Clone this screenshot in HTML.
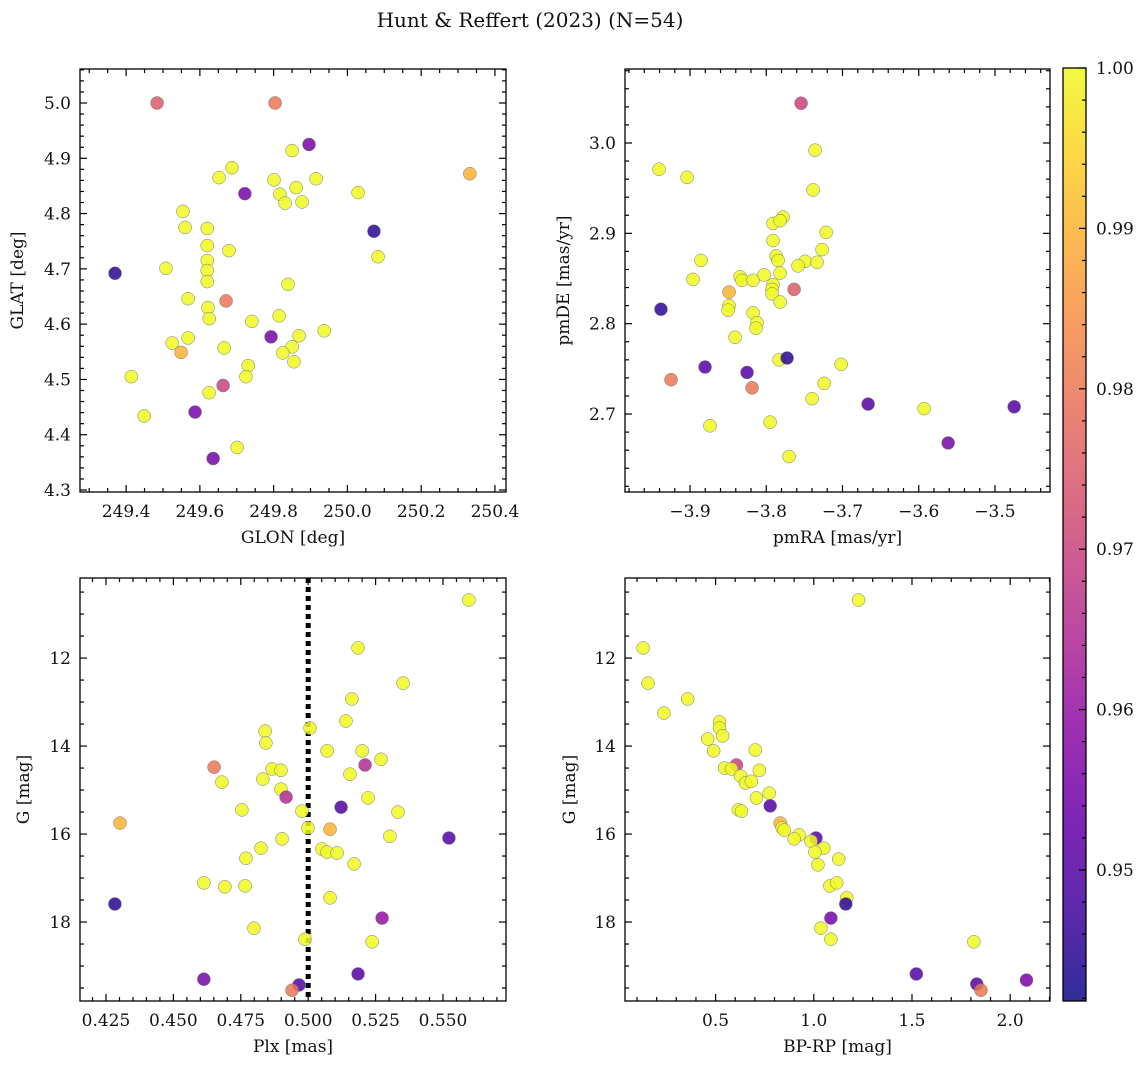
<!DOCTYPE html>
<html><head><meta charset="utf-8"><style>
body{margin:0;background:#fff;}
svg text{font-family:"DejaVu Serif","Liberation Serif",serif;fill:#111;}
</style></head><body>
<svg id="fig" xmlns="http://www.w3.org/2000/svg" width="1148" height="1068" viewBox="0 0 1148 1068">
<defs><linearGradient id="cmap" x1="0" y1="1" x2="0" y2="0"></linearGradient></defs>
<text x="530" y="27" font-size="20" text-anchor="middle">Hunt &amp; Reffert (2023) (N=54)</text>
</svg>
<script>
// ---- data ----
const glonValues=[249.484,249.804,249.896,249.850,249.915,250.332,249.687,249.652,249.801,249.861,249.722,250.029,249.817,249.831,249.877,249.554,249.620,249.560,250.072,249.679,249.620,249.370,249.508,249.620,249.620,249.620,250.083,249.839,249.568,249.671,249.622,249.815,249.625,249.741,249.937,249.869,249.525,249.568,249.793,249.666,249.850,249.549,249.825,249.855,249.731,249.725,249.414,249.625,249.663,249.587,249.449,249.701,249.636];
const glatValues=[5.000,5.000,4.925,4.914,4.863,4.872,4.883,4.865,4.861,4.847,4.836,4.838,4.835,4.819,4.821,4.804,4.773,4.775,4.768,4.733,4.742,4.692,4.701,4.715,4.697,4.677,4.722,4.672,4.646,4.642,4.630,4.615,4.610,4.605,4.588,4.579,4.566,4.575,4.577,4.557,4.559,4.549,4.548,4.532,4.525,4.505,4.505,4.476,4.489,4.441,4.434,4.377,4.357];
const probPos=[0.975,0.98,0.955,1,1,0.99,1,1,1,1,0.955,1,1,1,1,1,1,1,0.945,1,1,0.945,1,1,1,1,1,1,1,0.98,1,1,1,1,1,1,1,1,0.955,1,1,0.99,1,1,1,1,1,1,0.97,0.955,1,1,0.955];

const pmraValues=[-3.7543,-3.7360,-3.9407,-3.9039,-3.7386,-3.7215,-3.7780,-3.7911,-3.7819,-3.7911,-3.7268,-3.7871,-3.7845,-3.7491,-3.7333,-3.7583,-3.8856,-3.8961,-3.7819,-3.8344,-3.8318,-3.8173,-3.8029,-3.7911,-3.7635,-3.7924,-3.7924,-3.8488,-3.7819,-3.8488,-3.8173,-3.8501,-3.8121,-3.8134,-3.9381,-3.8409,-3.7832,-3.7727,-3.7018,-3.8803,-3.8252,-3.9249,-3.7241,-3.8186,-3.7399,-3.6664,-3.5929,-3.4748,-3.8738,-3.7950,-3.7701,-3.5614];
const pmdeValues=[3.044,2.992,2.971,2.962,2.948,2.901,2.918,2.911,2.914,2.892,2.882,2.875,2.870,2.869,2.868,2.864,2.870,2.849,2.856,2.852,2.848,2.848,2.854,2.843,2.838,2.838,2.833,2.835,2.824,2.820,2.812,2.815,2.801,2.795,2.816,2.785,2.760,2.762,2.755,2.752,2.746,2.738,2.734,2.729,2.717,2.711,2.706,2.708,2.687,2.691,2.653,2.668];
const probPm=[0.97,1,1,1,1,1,1,1,1,1,1,1,1,1,1,1,1,1,1,1,1,1,1,1,0.975,1,1,0.99,1,1,1,1,1,1,0.945,1,1,0.945,1,0.95,0.95,0.98,1,0.98,1,0.95,1,0.95,1,1,1,0.955];

const plxValues=[0.5596,0.5185,0.5352,0.5162,0.5140,0.4840,0.5007,0.5070,0.5200,0.4843,0.4651,0.5211,0.5270,0.4680,0.5155,0.4832,0.4866,0.4899,0.4899,0.4918,0.5222,0.4754,0.4977,0.5333,0.5122,0.4302,0.4999,0.5081,0.5522,0.4903,0.5303,0.4825,0.5051,0.5070,0.5107,0.5170,0.4769,0.4613,0.4691,0.4766,0.5081,0.4799,0.4283,0.5274,0.5237,0.4988,0.4613,0.5185,0.4966,0.4940];
const gPlxValues=[10.68,11.77,12.57,12.93,13.43,13.66,13.59,14.11,14.11,13.93,14.48,14.43,14.30,14.82,14.64,14.75,14.52,14.55,14.98,15.16,15.18,15.45,15.48,15.50,15.39,15.75,15.86,15.89,16.09,16.11,16.05,16.32,16.34,16.41,16.43,16.68,16.55,17.11,17.20,17.18,17.45,18.14,17.59,17.91,18.45,18.39,19.30,19.18,19.43,19.55];
const probPlx=[1,1,1,1,1,1,1,1,1,1,0.98,0.965,1,1,1,1,1,1,1,0.965,1,1,1,1,0.95,0.99,1,0.99,0.95,1,1,1,1,1,1,1,1,1,1,1,1,1,0.945,0.96,1,1,0.955,0.95,0.95,0.98];
const meanPlx=0.5;

const bprpValues=[1.228,0.131,0.156,0.237,0.358,0.520,0.520,0.536,0.460,0.490,0.702,0.606,0.546,0.581,0.627,0.723,0.652,0.682,0.773,0.708,0.616,0.632,0.778,0.829,0.839,0.849,0.925,1.011,0.900,0.986,1.051,1.006,1.127,1.021,1.082,1.117,1.168,1.163,1.087,1.036,1.087,1.815,1.522,1.830,2.083,1.851];
const gCmdValues=[10.68,11.77,12.57,13.25,12.93,13.45,13.59,13.77,13.84,14.11,14.09,14.43,14.50,14.52,14.68,14.55,14.84,14.80,15.07,15.18,15.45,15.48,15.36,15.75,15.86,15.91,16.02,16.09,16.11,16.16,16.32,16.41,16.57,16.70,17.18,17.11,17.45,17.59,17.91,18.14,18.39,18.45,19.18,19.41,19.32,19.55];
const probCmd=[1,1,1,1,1,1,1,1,1,1,1,0.97,1,1,1,1,1,1,1,1,1,1,0.95,0.99,1,1,1,0.95,1,1,1,1,1,1,1,1,1,0.945,0.955,1,1,1,0.95,0.95,0.955,0.98];

const tickTLx=[249.4,249.6,249.8,250.0,250.2,250.4], tickTLy=[4.3,4.4,4.5,4.6,4.7,4.8,4.9,5.0];
const tickTRx=[-3.9,-3.8,-3.7,-3.6,-3.5], tickTRy=[2.7,2.8,2.9,3.0];
const tickBLx=[0.425,0.450,0.475,0.500,0.525,0.550], tickGy=[12,14,16,18];
const tickBRx=[0.5,1.0,1.5,2.0];
const cbarTicks=[0.95,0.96,0.97,0.98,0.99,1.00];

// ---- rendering ----
const NS='http://www.w3.org/2000/svg';
const svg=document.getElementById('fig');
function mk(tag,attrs,parent){const e=document.createElementNS(NS,tag);for(const k in attrs)e.setAttribute(k,attrs[k]);(parent||svg).appendChild(e);return e;}
const plasma=[[13,8,135],[65,4,157],[106,0,168],[143,13,164],[177,42,144],[204,71,120],[225,100,98],[242,132,75],[252,166,54],[252,206,37],[240,249,33]];
const CMIN=0.94183,CMAX=1.0;
function cm(v){let t=Math.max(0,Math.min(1,(v-CMIN)/(CMAX-CMIN)))*10;const i=Math.min(9,Math.floor(t)),f=t-i;const a=plasma[i],b=plasma[i+1];return 'rgb('+a.map((c,k)=>Math.round(c+(b[k]-c)*f)).join(',')+')';}
const grad=document.getElementById('cmap');
for(let i=0;i<=10;i++){mk('stop',{offset:(i*10)+'%','stop-color':'rgb('+plasma[i].join(',')+')'},grad);}
function fmt(v,d){const s=Math.abs(v).toFixed(d);return v<0?'\u2212'+s:s;}

function panel(o){
  const g=mk('g',{});
  
  
  const L=o.box[0],T=o.box[1],R=o.box[2],B=o.box[3];
  const sx=v=>L+(v-o.xr[0])/(o.xr[1]-o.xr[0])*(R-L);
  const sy=o.inv?(v=>T+(v-o.yr[0])/(o.yr[1]-o.yr[0])*(B-T)):(v=>B-(v-o.yr[0])/(o.yr[1]-o.yr[0])*(B-T));
  if(o.vline!==undefined){const l=mk('line',{x1:sx(o.vline),x2:sx(o.vline),y1:T,y2:B,stroke:'#000','stroke-width':5,'stroke-dasharray':'5,4'},g);
    
    }
  o.x.forEach((xv,i)=>{const c=mk('circle',{cx:sx(xv),cy:sy(o.y[i]),r:6.5,fill:cm(o.p[i]),'fill-opacity':0.85,stroke:'#777','stroke-width':0.5},g);
    
    });
  const tk=mk('g',{stroke:'#000','stroke-width':1.2},g);
  const xs=o.xt[1]-o.xt[0], ys=o.yt[1]-o.yt[0];
  const xm=xs/o.xminor, ym=ys/o.yminor;
  for(let v=o.xt[0]-Math.ceil((o.xt[0]-o.xr[0])/xm)*xm; v<=o.xr[1]; v+=xm){const px=sx(v);if(px<L+0.5||px>R-0.5)continue;
    const major=o.xt.some(t=>Math.abs(t-v)<xm/10);const len=major?7:4;
    mk('line',{x1:px,x2:px,y1:B,y2:B-len},tk);mk('line',{x1:px,x2:px,y1:T,y2:T+len},tk);}
  for(let v=o.yt[0]-Math.ceil((o.yt[0]-o.yr[0])/ym)*ym; v<=o.yr[1]; v+=ym){const py=sy(v);if(py<T+0.5||py>B-0.5)continue;
    const major=o.yt.some(t=>Math.abs(t-v)<ym/10);const len=major?7:4;
    mk('line',{x1:L,x2:L+len,y1:py,y2:py},tk);mk('line',{x1:R,x2:R-len,y1:py,y2:py},tk);}
  o.xt.forEach(v=>{const t=mk('text',{x:sx(v),y:B+25,'font-size':17,'text-anchor':'middle'},g);t.textContent=fmt(v,o.xd);
    
    });
  o.yt.forEach(v=>{const t=mk('text',{x:L-9,y:sy(v)+6,'font-size':17,'text-anchor':'end'},g);t.textContent=fmt(v,o.yd);
    
    });
  mk('rect',{x:L,y:T,width:R-L,height:B-T,fill:'none',stroke:'#000','stroke-width':1.3},g);
  const xl=mk('text',{x:(L+R)/2,y:B+51,'font-size':17,'text-anchor':'middle'},g);xl.textContent=o.xlab;
  
  
  const yl=mk('text',{x:0,y:0,'font-size':17,'text-anchor':'middle',transform:'translate('+o.ylx+','+((T+B)/2)+') rotate(-90)'},g);yl.textContent=o.ylab;
  
  
}
panel({name:'glon-glat-panel',box:[80,69,506,492],xr:[249.275,250.430],yr:[4.2964,5.0615],x:glonValues,y:glatValues,p:probPos,xt:tickTLx,yt:tickTLy,xminor:4,yminor:5,xd:1,yd:1,xlab:'GLON [deg]',ylab:'GLAT [deg]',ylx:23});
panel({name:'proper-motion-panel',box:[625,69,1050,492],xr:[-3.9853,-3.4278],yr:[2.6137,3.0819],x:pmraValues,y:pmdeValues,p:probPm,xt:tickTRx,yt:tickTRy,xminor:5,yminor:5,xd:1,yd:1,xlab:'pmRA [mas/yr]',ylab:'pmDE [mas/yr]',ylx:569});
panel({name:'parallax-magnitude-panel',box:[80,578,506,1001],xr:[0.41536,0.57337],yr:[10.18,19.795],inv:true,x:plxValues,y:gPlxValues,p:probPlx,xt:tickBLx,yt:tickGy,xminor:5,yminor:4,xd:3,yd:0,xlab:'Plx [mas]',ylab:'G [mag]',ylx:29,vline:meanPlx});
panel({name:'cmd-panel',box:[625,578,1050,1001],xr:[0.0388,2.2027],yr:[10.18,19.795],inv:true,x:bprpValues,y:gCmdValues,p:probCmd,xt:tickBRx,yt:tickGy,xminor:5,yminor:4,xd:1,yd:0,xlab:'BP-RP [mag]',ylab:'G [mag]',ylx:575});

const cb=mk('g',{});


const cT=68,cB=1001,cL=1063,cR=1086;
mk('rect',{x:cL,y:cT,width:cR-cL,height:cB-cT,fill:'url(#cmap)','fill-opacity':0.85},cb);
mk('rect',{x:cL,y:cT,width:cR-cL,height:cB-cT,fill:'none',stroke:'#000','stroke-width':1.3},cb);
const cy=v=>cB-(v-CMIN)/(CMAX-CMIN)*(cB-cT);
for(let v=0.942;v<=1.0001;v+=0.002){const py=cy(v);const major=cbarTicks.some(t=>Math.abs(t-v)<0.0004);
  mk('line',{x1:cR,x2:cR-(major?7:4),y1:py,y2:py,stroke:'#000','stroke-width':1.2},cb);}
cbarTicks.forEach(v=>{const t=mk('text',{x:cR+10,y:cy(v)+6,'font-size':17},cb);t.textContent=v.toFixed(2);
  
  });
</script>
</body></html>
